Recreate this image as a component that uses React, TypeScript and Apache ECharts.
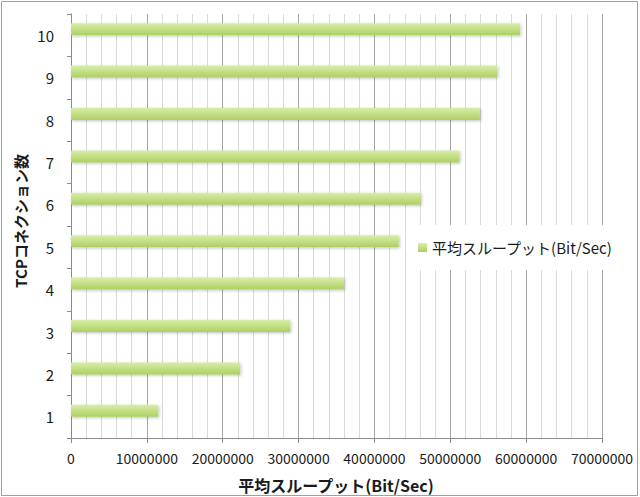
import React, { useEffect, useRef } from "react";
import * as echarts from "echarts";

const categories = ["1", "2", "3", "4", "5", "6", "7", "8", "9", "10"];
const throughput = [11500000, 22300000, 28900000, 36000000, 43200000, 46100000, 51200000, 53900000, 56200000, 59200000];
const seriesName = "平均スループット(Bit/Sec)";
const xTitle = "平均スループット(Bit/Sec)";
const yTitle = "TCPコネクション数";

const FONT = "'Noto Sans CJK JP', 'Noto Sans', sans-serif";

export default function App() {
  const ref = useRef<HTMLDivElement>(null);
  useEffect(() => {
    document.body.style.margin = "0";
    const chart = echarts.init(ref.current!, null, { renderer: "svg" });
    chart.setOption({
      animation: false,
      backgroundColor: "#ffffff",
      textStyle: { fontFamily: FONT },
      grid: { left: 71, right: 38, top: 14, bottom: 59, containLabel: false },
      legend: {
        data: [seriesName],
        left: 408,
        top: 225,
        padding: [15, 10, 15, 10],
        backgroundColor: "#ffffff",
        itemWidth: 9,
        itemHeight: 9,
        itemGap: 5,
        icon: "rect",
        textStyle: { fontFamily: FONT, fontSize: 15, color: "#1a1a1a" },
      },
      xAxis: {
        type: "value",
        min: 0,
        max: 70000000,
        interval: 10000000,
        axisLine: { show: true, lineStyle: { color: "#8c8c8c" } },
        axisTick: { show: true, length: 5, lineStyle: { color: "#8c8c8c" } },
        axisLabel: {
          fontFamily: FONT,
          fontSize: 14,
          color: "#1a1a1a",
          margin: 13,
          formatter: (v: number) => String(v),
        },
        splitLine: { show: true, lineStyle: { color: "#a6a6a6", width: 1 } },
        minorTick: { show: false, splitNumber: 5 },
        minorSplitLine: { show: true, lineStyle: { color: "#d9d9d9", width: 1 } },
      },
      yAxis: {
        type: "category",
        data: categories,
        axisLine: { show: true, lineStyle: { color: "#8c8c8c" } },
        axisTick: { show: true, length: 4, lineStyle: { color: "#8c8c8c" } },
        axisLabel: { fontFamily: FONT, fontSize: 15, color: "#1a1a1a", margin: 17 },
        splitLine: { show: false },
      },
      series: [
        {
          name: seriesName,
          type: "bar",
          data: throughput,
          barWidth: 12,
          barGap: "0%",
          itemStyle: {
            color: new echarts.graphic.LinearGradient(0, 0, 0, 1, [
              { offset: 0, color: "#d9edaa" },
              { offset: 0.5, color: "#c2df84" },
              { offset: 1, color: "#acd062" },
            ]),
            shadowColor: "rgba(0,0,0,0.25)",
            shadowBlur: 3,
            shadowOffsetX: 1,
            shadowOffsetY: 1,
          },
        },
        {
          name: "_spacer",
          type: "bar",
          data: [],
          barWidth: 12,
          barGap: "0%",
        },
      ],
      color: ["#b9db79"],
      graphic: [
        {
          type: "rect",
          shape: { x: 1.5, y: 1.5, width: 636, height: 494 },
          style: { fill: "none", stroke: "#a0a0a0", lineWidth: 1 },
          silent: true,
        },
        {
          type: "text",
          x: 336,
          y: 485,
          style: {
            text: xTitle,
            font: `bold 16px ${FONT}`,
            fill: "#1a1a1a",
            align: "center",
            verticalAlign: "middle",
          },
        },
        {
          type: "text",
          x: 20,
          y: 221,
          rotation: Math.PI / 2,
          style: {
            text: yTitle,
            font: `bold 15px ${FONT}`,
            fill: "#1a1a1a",
            align: "center",
            verticalAlign: "middle",
          },
        },
      ],
    });
    return () => chart.dispose();
  }, []);
  return <div ref={ref} style={{ width: 640, height: 497, position: "absolute", left: 0, top: 0 }} />;
}
